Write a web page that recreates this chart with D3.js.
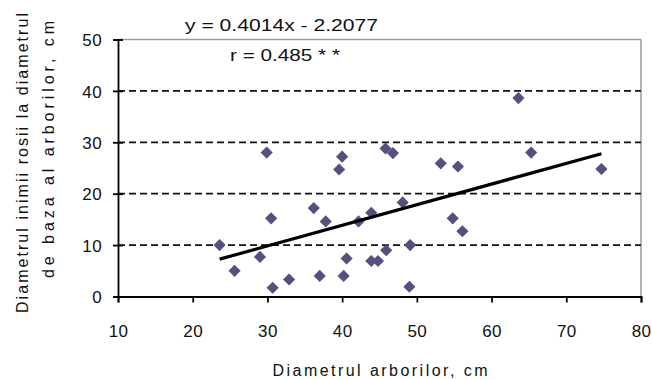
<!DOCTYPE html>
<html>
<head>
<meta charset="utf-8">
<script src="https://cdn.jsdelivr.net/npm/d3@7"></script>
<style>
  html, body { margin: 0; padding: 0; background: #fff; }
  svg { display: block; font-family: "Liberation Sans", Arial, sans-serif; }
</style>
</head>
<body>
<svg id="chart" width="652" height="380"></svg>
<script>
// ---- data ----
const xValues = [23.6, 25.6, 29.0, 29.9, 30.5, 30.7, 32.9, 36.2, 37.0, 37.8, 39.6, 40.0, 40.2, 40.6, 42.2, 43.9, 43.9, 44.8, 45.9, 45.8, 46.8, 48.1, 49.1, 49.0, 53.2, 55.5, 54.8, 56.1, 63.6, 65.3, 74.7];
const yValues = [10.0, 5.0, 7.7, 28.0, 15.2, 1.7, 3.3, 17.2, 4.0, 14.6, 24.7, 27.2, 4.0, 7.4, 14.6, 16.3, 6.9, 6.9, 9.0, 28.8, 27.9, 18.3, 10.0, 1.9, 25.9, 25.3, 15.2, 12.7, 38.6, 28.0, 24.8];
const xTicks = [10, 20, 30, 40, 50, 60, 70, 80];
const yTicks = [0, 10, 20, 30, 40, 50];
const gridValues = [10, 20, 30, 40];
const slope = 0.4014;
const intercept = -2.2077;
const trendRange = [23.6, 74.7];
const equationText = "y = 0.4014x - 2.2077";
const rText = "r = 0.485 * *";
const xTitle = "Diametrul arborilor, cm";
const yTitle1 = "Diametrul inimii rosii la diametrul";
const yTitle2 = "de baza al arborilor, cm";

(function () {
// ---- layout ----
const svg = d3.select("#chart");
const pLeft = 118, pRight = 641, pTop = 39.5, pBottom = 296.5;
const x = d3.scaleLinear().domain([10, 80]).range([pLeft, pRight]);
const y = d3.scaleLinear().domain([0, 50]).range([pBottom, pTop]);

// plot frame (gray top/right)
svg.append("line").attr("x1", pLeft).attr("x2", pRight).attr("y1", pTop).attr("y2", pTop)
  .attr("stroke", "#9a9a9a").attr("stroke-width", 1.5);
svg.append("line").attr("x1", pRight).attr("x2", pRight).attr("y1", pTop).attr("y2", pBottom)
  .attr("stroke", "#9a9a9a").attr("stroke-width", 1.5);

// dashed gridlines
svg.append("g").selectAll("line").data(gridValues).join("line")
  .attr("x1", pLeft).attr("x2", pRight)
  .attr("y1", d => y(d)).attr("y2", d => y(d))
  .attr("stroke", "#111").attr("stroke-width", 1.8)
  .attr("stroke-dasharray", "7,4");

// x axis
const xAxis = svg.append("g").attr("transform", `translate(0,${pBottom})`)
  .call(d3.axisBottom(x).tickValues(xTicks).tickSize(6).tickFormat(d3.format("d")));
xAxis.select(".domain").attr("stroke", "#000").attr("stroke-width", 1.8);
xAxis.selectAll(".tick line").attr("stroke", "#000").attr("stroke-width", 1.8);
xAxis.selectAll(".tick text").attr("y", 40).attr("dy", "0")
  .attr("font-size", 17).attr("letter-spacing", 0.4)
  .attr("font-family", "Liberation Sans, Arial, sans-serif").attr("fill", "#111");

// y axis
const yAxis = svg.append("g").attr("transform", `translate(${pLeft},0)`)
  .call(d3.axisLeft(y).tickValues(yTicks).tickSize(5).tickFormat(d3.format("d")));
yAxis.select(".domain").attr("stroke", "#000").attr("stroke-width", 1.8);
yAxis.selectAll(".tick line").attr("x1", -5).attr("x2", 5)
  .attr("stroke", "#000").attr("stroke-width", 1.8);
yAxis.selectAll(".tick text").attr("x", -16).attr("dy", "0.36em")
  .attr("font-size", 17).attr("letter-spacing", 0.4)
  .attr("font-family", "Liberation Sans, Arial, sans-serif").attr("fill", "#111");

// points
const pts = xValues.map((v, i) => ({ x: v, y: yValues[i] }));
svg.append("g").selectAll("path").data(pts).join("path")
  .attr("d", d3.symbol(d3.symbolSquare, 74))
  .attr("transform", d => `translate(${x(d.x)},${y(d.y)}) rotate(45)`)
  .attr("fill", "#55507f");

// trendline
svg.append("line")
  .attr("x1", x(trendRange[0])).attr("y1", y(slope * trendRange[0] + intercept))
  .attr("x2", x(trendRange[1])).attr("y2", y(slope * trendRange[1] + intercept))
  .attr("stroke", "#000").attr("stroke-width", 3.2);

// equation texts
svg.append("text").attr("x", 185).attr("y", 31).attr("font-size", 17)
  .attr("textLength", 193).attr("lengthAdjust", "spacingAndGlyphs")
  .attr("fill", "#111").text(equationText);
svg.append("text").attr("x", 230).attr("y", 61).attr("font-size", 17)
  .attr("textLength", 110).attr("lengthAdjust", "spacingAndGlyphs")
  .attr("fill", "#111").text(rText);

// axis titles
svg.append("text").attr("x", 380).attr("y", 376).attr("text-anchor", "middle")
  .attr("font-size", 16).attr("textLength", 215).attr("lengthAdjust", "spacing")
  .attr("fill", "#111").text(xTitle);
svg.append("text").attr("transform", "translate(27.5,163) rotate(-90)")
  .attr("text-anchor", "middle").attr("font-size", 16)
  .attr("textLength", 300).attr("lengthAdjust", "spacing")
  .attr("fill", "#111").text(yTitle1);
svg.append("text").attr("transform", "translate(54,149.5) rotate(-90)")
  .attr("text-anchor", "middle").attr("font-size", 16)
  .attr("textLength", 257).attr("lengthAdjust", "spacing")
  .attr("fill", "#111").text(yTitle2);
})();
</script>
</body>
</html>
